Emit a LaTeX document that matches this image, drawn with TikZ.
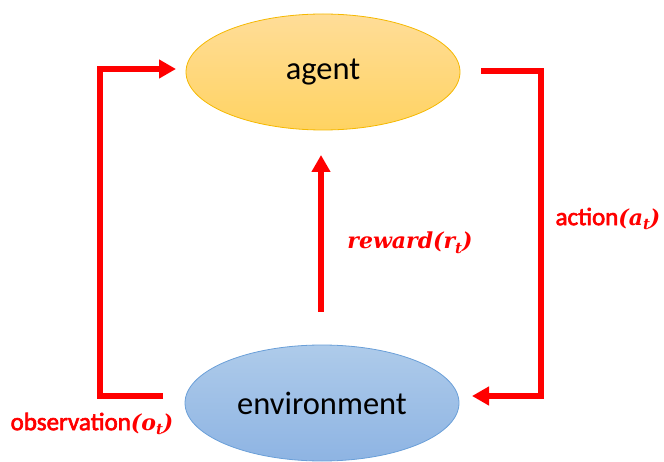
\documentclass[tikz,border=0pt]{standalone}
\usepackage{fontspec}
\setmainfont{Carlito}[AutoFakeBold=2.5]
\newfontfamily\mathlike{DejaVu Serif}
\usetikzlibrary{arrows.meta,shapes.geometric,calc}
\definecolor{agentfillA}{HTML}{FFDD98}
\definecolor{agentfillB}{HTML}{FFD362}
\definecolor{agentdraw}{HTML}{F5B800}
\definecolor{envfillA}{HTML}{AECBEA}
\definecolor{envfillB}{HTML}{8EB4E3}
\definecolor{envdraw}{HTML}{6A9FD8}
\definecolor{loopred}{HTML}{FF0000}
\newcommand{\mvar}[2]{{\mathlike\bfseries\itshape #1\raisebox{-0.22em}{\fontsize{15}{18}\selectfont #2}}}
\tikzset{
  x=1pt,y=1pt,
  blob/.style={ellipse,minimum width=274pt,minimum height=116pt,inner sep=0pt,line width=0.8pt,font=\fontsize{32.5}{38}\selectfont},
  agentblob/.style={blob,draw=agentdraw,top color=agentfillA,bottom color=agentfillB},
  envblob/.style={blob,draw=envdraw,top color=envfillA,bottom color=envfillB},
  redline/.style={draw=loopred,line width=6pt},
  redarrow/.style={redline,-{Triangle[length=17pt,width=18pt]}},
  redlabel/.style={text=loopred,font=\fontsize{25}{30}\selectfont\bfseries,inner sep=0pt}
}
\begin{document}
\begin{tikzpicture}
\useasboundingbox (0,0) rectangle (664,-462);
\node[agentblob] (agent) at (323,-72) {agent};
\node[envblob] (env) at (322,-403) {environment};
% left loop
\coordinate (lstart) at (163,-396);
\coordinate (lcorner1) at (100,-396);
\coordinate (lcorner2) at (100,-69);
\coordinate (lend) at (176,-69);
\draw[redarrow] (lstart) -- (lcorner1) -- (lcorner2) -- (lend);
% right loop
\coordinate (rstart) at (481,-71);
\coordinate (rcorner1) at (541,-71);
\coordinate (rcorner2) at (541,-396);
\coordinate (rend) at (472,-396);
\draw[redarrow] (rstart) -- (rcorner1) -- (rcorner2) -- (rend);
% reward
\coordinate (rwstart) at (321,-312);
\coordinate (rwend) at (321,-155);
\draw[redarrow] (rwstart) -- (rwend);
% labels
\node[redlabel] (obs) at (92,-424) {\textbf{observation}{\fontsize{22}{26}\selectfont\mvar{(o}{t}\mvar{)}{}}};
\node[redlabel] (act) at (608,-219) {\textbf{action}{\fontsize{22}{26}\selectfont\mvar{(a}{t}\mvar{)}{}}};
\node[redlabel] (rew) at (410,-243) {\fontsize{22}{26}\selectfont\mvar{reward(r}{t}\mvar{)}{}};
\end{tikzpicture}
\end{document}
